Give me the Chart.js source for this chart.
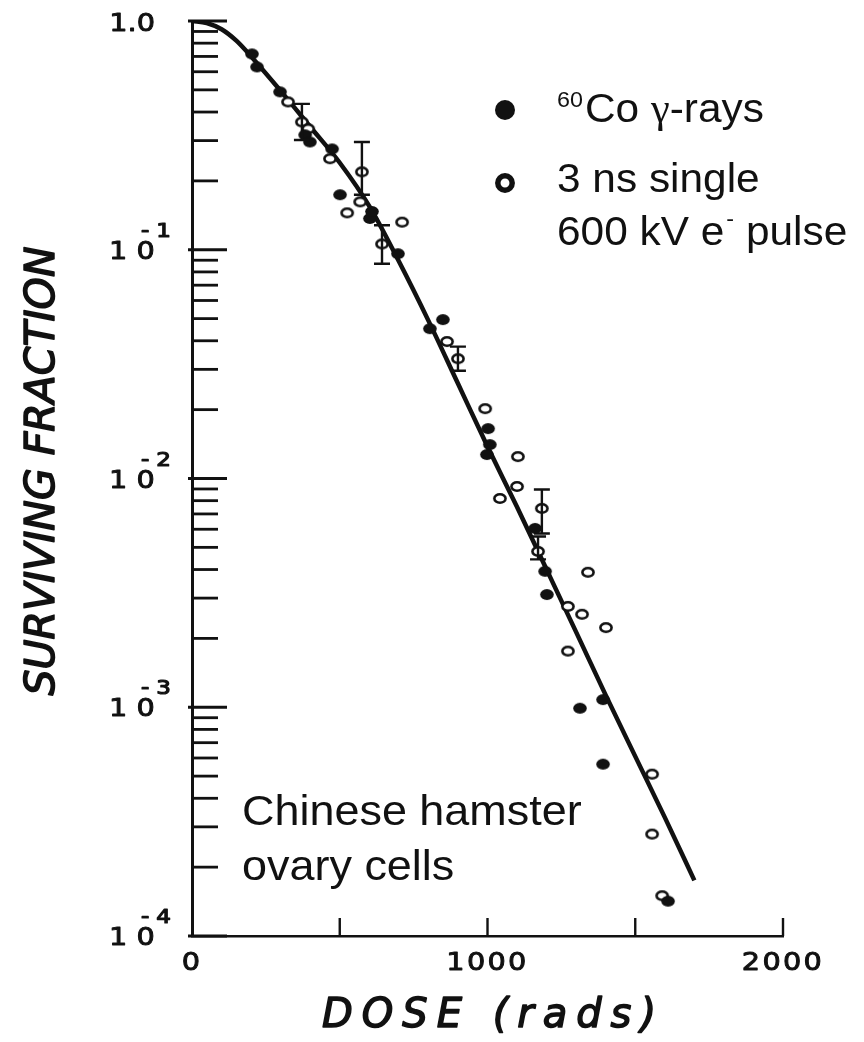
<!DOCTYPE html>
<html>
<head>
<meta charset="utf-8">
<script src="https://cdn.jsdelivr.net/npm/chart.js@4.4.1/dist/chart.umd.min.js"></script>
<style>
  html, body { margin: 0; padding: 0; background: #fff; }
  #wrap { width: 864px; height: 1042px; position: relative; }
</style>
</head>
<body>
<div id="wrap"><canvas id="c" width="864" height="1042"></canvas></div>
<script>
// Fitted survival curve (dose in rads, surviving fraction)
const curveDose = [0, 50, 100, 150, 200, 300, 400, 500, 600, 700, 800, 900, 1000, 1100, 1200, 1300, 1400, 1500, 1600, 1700];
const curveSurv = [1.0, 0.98, 0.92, 0.82, 0.70, 0.495, 0.345, 0.24, 0.155, 0.089, 0.049, 0.026, 0.0138, 0.0075, 0.0040, 0.00213, 0.00113, 0.00061, 0.00033, 0.000175];

// 60Co gamma-ray survival
const coDose = [203, 220, 298, 383, 399, 474, 501, 602, 609, 697, 805, 849, 998, 1002, 1008, 1161, 1195, 1201, 1313, 1391, 1391, 1611];
const coSurv = [0.718, 0.630, 0.490, 0.318, 0.296, 0.276, 0.174, 0.137, 0.147, 0.0961, 0.0452, 0.0495, 0.01273, 0.01653, 0.01407, 0.00605, 0.00393, 0.00311, 0.00099, 0.00108, 0.000564, 0.000142];

// 3 ns single 600 kV electron pulse survival
const pulseDose = [325, 372, 393, 467, 525, 569, 575, 643, 711, 863, 900, 992, 1042, 1100, 1103, 1171, 1184, 1272, 1272, 1320, 1340, 1401, 1557, 1557, 1591];
const pulseSurv = [0.443, 0.362, 0.338, 0.250, 0.145, 0.162, 0.219, 0.106, 0.132, 0.0397, 0.0334, 0.0202, 0.00818, 0.00923, 0.01247, 0.00480, 0.00740, 0.00276, 0.00176, 0.00255, 0.00389, 0.00223, 0.000510, 0.000279, 0.000150];

// Error bars on selected pulse points
const errDose = [372, 575, 643, 900, 1184, 1171];
const errLow  = [0.302, 0.174, 0.0869, 0.0296, 0.00575, 0.00443];
const errHigh = [0.434, 0.296, 0.128, 0.0377, 0.00895, 0.00558];

// Axis ticks and labels
const xTickValues = [0, 500, 1000, 1500, 2000];
const xTickLabels = ['0', '', '1000', '', '2000'];
const yMajorTicks = [1e-4, 1e-3, 1e-2, 1e-1, 1];
const yLabelBase = ['10', '10', '10', '10', '1.0'];
const yLabelExp  = ['-4', '-3', '-2', '-1', ''];
const yMinorFactors = [2, 3, 4, 5, 6, 7, 8, 9];

const ink = '#111';

const yTickValues = [];
yMajorTicks.forEach((m, i) => {
  yTickValues.push(m);
  if (i < yMajorTicks.length - 1) yMinorFactors.forEach(f => yTickValues.push(+(m * f).toPrecision(3)));
});

function marker(filled, w, h, rx, ry, lw) {
  const c = document.createElement('canvas');
  c.width = w; c.height = h;
  const g = c.getContext('2d');
  g.beginPath();
  g.ellipse(w / 2, h / 2, rx, ry, 0, 0, Math.PI * 2);
  if (filled) {
    g.fillStyle = ink; g.fill();
  } else {
    g.fillStyle = '#fff'; g.fill();
    g.lineWidth = lw; g.strokeStyle = ink; g.stroke();
  }
  return c;
}
const filledDot = marker(true, 16, 13, 6.8, 5.4, 0);
const openDot = marker(false, 16, 13, 5.6, 4.2, 2.6);

function txt(ctx, s, x, y, font, opt = {}) {
  ctx.save();
  ctx.font = font;
  ctx.fillStyle = ink;
  ctx.textAlign = opt.align || 'left';
  ctx.textBaseline = opt.base || 'alphabetic';
  ctx.letterSpacing = (opt.ls || 0) + 'px';
  ctx.translate(x, y);
  if (opt.rot) ctx.rotate(opt.rot);
  ctx.scale(opt.sx || 1, 1);
  ctx.fillText(s, 0, 0);
  if (opt.thick) { ctx.lineWidth = opt.thick; ctx.strokeStyle = ink; ctx.lineJoin = 'round'; ctx.strokeText(s, 0, 0); }
  const w = ctx.measureText(s).width * (opt.sx || 1);
  ctx.restore();
  return w;
}

const decor = {
  id: 'decor',
  afterDatasetsDraw(chart) {
    const { ctx, scales: { x, y } } = chart;
    ctx.save();
    ctx.strokeStyle = ink;
    ctx.lineCap = 'butt';

    // error bars
    ctx.lineWidth = 2.4;
    errDose.forEach((d, i) => {
      const px = x.getPixelForValue(d);
      const a = y.getPixelForValue(errHigh[i]);
      const b = y.getPixelForValue(errLow[i]);
      ctx.beginPath();
      ctx.moveTo(px, a); ctx.lineTo(px, b);
      ctx.moveTo(px - 8, a); ctx.lineTo(px + 8, a);
      ctx.moveTo(px - 8, b); ctx.lineTo(px + 8, b);
      ctx.stroke();
    });

    // inward tick marks on the log axis
    yTickValues.forEach(v => {
      const py = y.getPixelForValue(v);
      const major = yMajorTicks.includes(v);
      ctx.lineWidth = 2.8;
      ctx.beginPath();
      ctx.moveTo(x.left - (major ? 4 : 0), py);
      ctx.lineTo(x.left + (major ? 35 : 26), py);
      ctx.stroke();
    });
    // upward tick marks on the dose axis
    xTickValues.forEach(v => {
      if (v === 0) return;
      const px = x.getPixelForValue(v);
      ctx.lineWidth = 2.4;
      ctx.beginPath();
      ctx.moveTo(px, y.bottom); ctx.lineTo(px, y.bottom - 18);
      ctx.stroke();
    });
    ctx.restore();

    // tick labels
    const numFont = '25px "DejaVu Sans"';
    xTickValues.forEach((v, i) => {
      if (!xTickLabels[i]) return;
      txt(ctx, xTickLabels[i], x.getPixelForValue(v), 970, numFont, { align: 'center', sx: 1.15, ls: 2, thick: 0.9 });
    });
    yMajorTicks.forEach((v, i) => {
      const py = y.getPixelForValue(v);
      if (!yLabelExp[i]) {
        txt(ctx, yLabelBase[i], 155, py + 10, numFont, { align: 'right', sx: 1.15, thick: 0.9 });
      } else {
        txt(ctx, yLabelBase[i], 109, py + 9, numFont, { sx: 1.15, ls: 8, thick: 0.9 });
        txt(ctx, yLabelExp[i], 141, py - 13, '20px "DejaVu Sans"', { sx: 1.15, ls: 6, thick: 1.2 });
      }
    });

    // axis titles
    txt(ctx, 'SURVIVING FRACTION', 43, 471, 'oblique 41px "DejaVu Sans"',
        { align: 'center', base: 'middle', rot: -Math.PI / 2, thick: 1.5 });
    txt(ctx, 'DOSE (rads)', 322, 1027, 'oblique 40px "DejaVu Sans"', { ls: 9, thick: 1.5 });

    // legend
    const lf = '40px "Liberation Sans", Arial, sans-serif';
    const sf = '22px "Liberation Sans", Arial, sans-serif';
    const sx = 1.06;
    ctx.save();
    ctx.fillStyle = ink;
    ctx.beginPath(); ctx.arc(505, 110, 10, 0, Math.PI * 2); ctx.fill();
    ctx.lineWidth = 5.5; ctx.strokeStyle = ink;
    ctx.beginPath(); ctx.arc(505, 183, 7.2, 0, Math.PI * 2); ctx.stroke();
    ctx.restore();
    let cx = 557;
    cx += txt(ctx, '60', cx, 107, sf, { sx });
    cx += 2;
    cx += txt(ctx, 'Co ', cx, 122, lf, { sx });
    cx += txt(ctx, 'γ', cx, 122, '40px "Liberation Serif", serif', { sx });
    txt(ctx, '-rays', cx, 122, lf, { sx });
    txt(ctx, '3 ns single', 557, 192, lf, { sx });
    cx = 557;
    cx += txt(ctx, '600 kV e', cx, 245, lf, { sx });
    cx += txt(ctx, '-', cx + 2, 226, sf, { sx });
    txt(ctx, ' pulse', cx + 2, 245, lf, { sx });

    // annotation
    txt(ctx, 'Chinese hamster', 242, 825, '42px "Liberation Sans", Arial, sans-serif', { sx: 1.07 });
    txt(ctx, 'ovary cells', 242, 880, '42px "Liberation Sans", Arial, sans-serif', { sx: 1.07 });
  }
};

const toXY = (xs, ys) => xs.map((v, i) => ({ x: v, y: ys[i] }));

new Chart(document.getElementById('c'), {
  type: 'scatter',
  data: {
    datasets: [
      {
        label: '60Co γ-rays',
        data: toXY(coDose, coSurv),
        pointStyle: filledDot,
        pointRadius: 6,
        showLine: false
      },
      {
        label: '3 ns single 600 kV e- pulse',
        data: toXY(pulseDose, pulseSurv),
        pointStyle: openDot,
        pointRadius: 6,
        showLine: false
      },
      {
        label: 'fit',
        type: 'line',
        data: toXY(curveDose, curveSurv),
        borderColor: ink,
        borderWidth: 4.5,
        pointRadius: 0,
        cubicInterpolationMode: 'monotone',
        fill: false
      }
    ]
  },
  options: {
    responsive: false,
    animation: false,
    events: [],
    layout: { padding: { top: 21, right: 81, left: 0, bottom: 0 } },
    plugins: { legend: { display: false }, tooltip: { enabled: false } },
    scales: {
      x: {
        type: 'linear',
        min: 0, max: 2000,
        afterFit: s => { s.height = 106; },
        afterBuildTicks: s => { s.ticks = xTickValues.map(v => ({ value: v })); },
        ticks: { display: false },
        grid: { display: false, drawTicks: false },
        border: { display: true, color: ink, width: 2.4 }
      },
      y: {
        type: 'logarithmic',
        min: 1e-4, max: 1,
        afterFit: s => { s.width = 192; },
        afterBuildTicks: s => { s.ticks = yTickValues.map(v => ({ value: v })); },
        ticks: { display: false },
        grid: { display: false, drawTicks: false },
        border: { display: true, color: ink, width: 3 }
      }
    }
  },
  plugins: [decor]
});
</script>
</body>
</html>
